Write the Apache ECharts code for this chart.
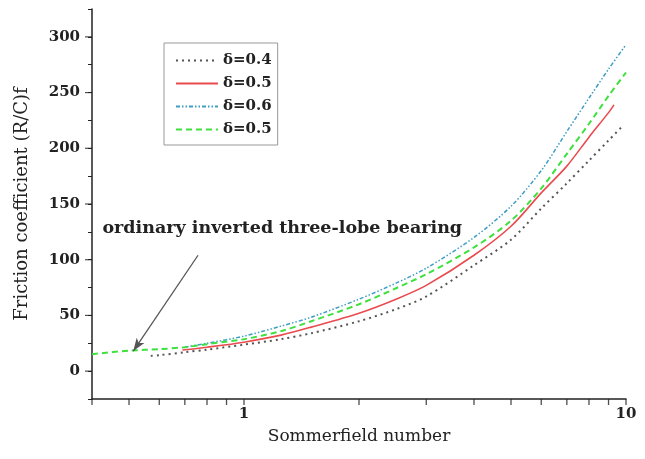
<!DOCTYPE html>
<html>
<head>
<meta charset="utf-8">
<script src="https://cdn.jsdelivr.net/npm/echarts@6/dist/echarts.min.js"></script>
<style>html,body{margin:0;padding:0;background:#fff;}#c{width:645px;height:459px;}</style>
</head>
<body>
<div id="c"></div>
<script>
// Sommerfield number (x) and friction coefficient (y)
const x04 = [0.57,0.6,0.7,0.8,1,1.25,1.5,2,2.5,3,4,5,6,7,8,9,9.8];
const y04 = [13.7,14.3,17,19.3,23.8,28.7,34,44.8,55.6,67,95,118,146,168.6,189,207,220];
const x05 = [0.69,0.8,1,1.25,1.5,2,2.5,3,4,5,6,7,8,9,9.3];
const y05 = [19,21.5,26,32.3,39.5,52,64.6,77,104,130,160,184,210,232,239];
const x06 = [0.7,0.8,1,1.25,1.5,2,2.5,3,4,5,6,7,8,9,10];
const y06 = [21.5,25,31.4,40.4,48.4,64.6,79,92.4,120,148,180,215,245,271,293];
const x05b = [0.4,0.5,0.6,0.7,0.8,1,1.25,1.5,2,2.5,3,4,5,6,7,8,9,10];
const y05b = [15.2,18.4,19.7,21.5,24.2,28.7,35.9,44.8,60,74.4,87,111,135,164,195,222,247,268];
const seriesNames = ['δ=0.4','δ=0.5','δ=0.6','δ=0.5 '];
const xTickValues = [0.4,0.5,0.6,0.7,0.8,0.9,1,2,3,4,5,6,7,8,9,10];
const xLabelValues = [1,10];
const yLabelValues = [0,50,100,150,200,250,300];
const annotationText = 'ordinary inverted three-lobe bearing';
const annotationAt = [0.426,128];
const arrowFrom = [0.758,104];
const arrowTo = [0.513,18];

const zip = (xs, ys) => xs.map((v, i) => [v, ys[i]]);
const serif = '"DejaVu Serif", "Liberation Serif", serif';
const X_MIN = 0.4, Y_MIN = -25;

const chart = echarts.init(document.getElementById('c'));
chart.setOption({
  animation: false,
  grid: {left: 92, right: 19, top: 9, bottom: 60},
  legend: {
    orient: 'vertical', left: 164, top: 43,
    data: seriesNames,
    formatter: n => n.trim(),
    itemWidth: 42, itemHeight: 14, itemGap: 8,
    padding: [10, 6, 8, 11],
    borderColor: '#999', borderWidth: 1,
    itemStyle: {opacity: 0},
    textStyle: {fontFamily: serif, fontWeight: 'bold', fontSize: 15, color: '#222'}
  },
  xAxis: {
    type: 'log', logBase: 10, min: X_MIN, max: 10,
    name: 'Sommerfield number', nameLocation: 'middle', nameGap: 29,
    nameTextStyle: {fontFamily: serif, fontSize: 17, color: '#222'},
    axisLine: {onZero: false, lineStyle: {color: '#222', width: 1.5}},
    axisTick: {show: false},
    splitLine: {show: false},
    axisLabel: {
      margin: 8, fontFamily: serif, fontWeight: 'bold', fontSize: 15, color: '#222',
      formatter: v => xLabelValues.some(t => Math.abs(t - v) < 1e-6) ? String(Math.round(v)) : ''
    }
  },
  yAxis: {
    type: 'value', min: Y_MIN, max: 325, interval: 25,
    name: 'Friction coefficient (R/C)f', nameLocation: 'middle', nameGap: 61,
    nameTextStyle: {fontFamily: serif, fontSize: 18, color: '#222'},
    axisLine: {show: true, onZero: false, lineStyle: {color: '#222', width: 1.5}},
    axisTick: {show: true, length: 4, lineStyle: {color: '#222'}},
    splitLine: {show: false},
    axisLabel: {
      margin: 12, fontFamily: serif, fontWeight: 'bold', fontSize: 15, color: '#222',
      formatter: v => yLabelValues.includes(v) ? String(v) : ''
    }
  },
  series: [
    {name: seriesNames[0], type: 'line', data: zip(x04, y04), symbol: 'none', smooth: 0.3,
     lineStyle: {color: '#555', width: 2, type: [2, 4]}, itemStyle: {color: '#555'}},
    {name: seriesNames[1], type: 'line', data: zip(x05, y05), symbol: 'none', smooth: 0.3,
     lineStyle: {color: '#ea4b4f', width: 1.6, type: 'solid'}, itemStyle: {color: '#ea4b4f'}},
    {name: seriesNames[2], type: 'line', data: zip(x06, y06), symbol: 'none', smooth: 0.3,
     lineStyle: {color: '#3d9ec4', width: 1.5, type: [4, 2, 1.5, 2, 1.5, 2]}, itemStyle: {color: '#3d9ec4'}},
    {name: seriesNames[3], type: 'line', data: zip(x05b, y05b), symbol: 'none', smooth: 0.3,
     lineStyle: {color: '#3ee03e', width: 2, type: [6, 4]}, itemStyle: {color: '#3ee03e'},
     markLine: {
       silent: true, symbol: ['none', 'arrow'],
       lineStyle: {color: '#555', width: 1.3, type: 'solid'},
       itemStyle: {color: '#333'},
       label: {show: false},
       data: [[{coord: arrowFrom, symbol: 'none'}, {coord: arrowTo, symbol: 'arrow', symbolSize: [7, 13]}]]
     },
     markPoint: {
       silent: true, symbol: 'circle', symbolSize: 0,
       label: {show: true, position: 'right', distance: 0, formatter: annotationText,
               fontFamily: serif, fontWeight: 'bold', fontSize: 17.5, color: '#222'},
       data: [{coord: annotationAt}]
     }},
    // x-axis ticks on the log scale (outward)
    {type: 'scatter', silent: true, clip: false, data: xTickValues.map(v => [v, Y_MIN]),
     symbol: 'rect', symbolSize: [1.3, 6], symbolOffset: [0, 3],
     itemStyle: {color: '#222'}, z: 5},
    // longer y-axis major ticks
    {type: 'scatter', silent: true, clip: false, data: yLabelValues.map(v => [X_MIN, v]),
     symbol: 'rect', symbolSize: [7, 1.2], symbolOffset: [-3.5, 0],
     itemStyle: {color: '#222'}, z: 5}
  ]
});
</script>
</body>
</html>
